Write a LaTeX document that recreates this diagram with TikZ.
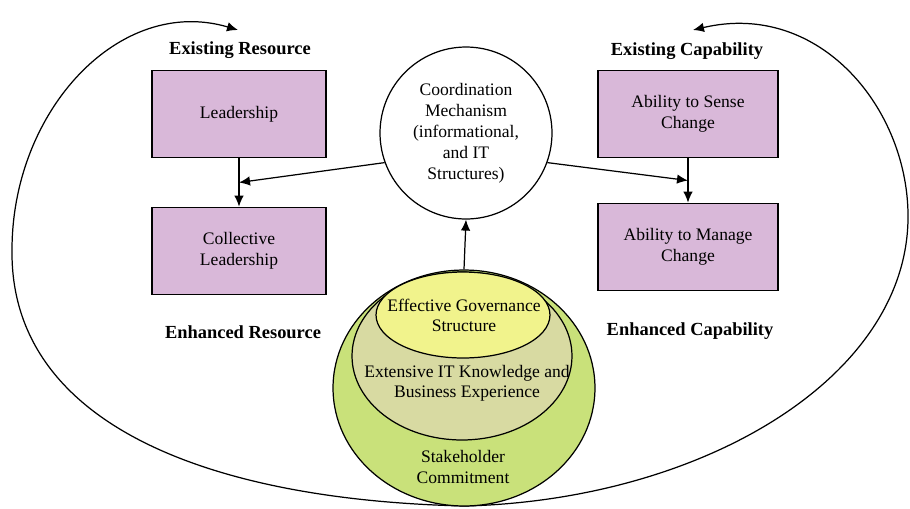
\documentclass[tikz,border=0pt]{standalone}
\usepackage{fontspec}
\setmainfont{Liberation Serif}
\usetikzlibrary{shapes.geometric,calc,arrows.meta}
\definecolor{boxPink}{RGB}{217,184,217}
\definecolor{govYellow}{RGB}{241,243,140}
\definecolor{knowKhaki}{RGB}{216,218,162}
\definecolor{stakeGreen}{RGB}{201,225,122}
\tikzset{
	capBox/.style={
		rectangle,
		draw,
		fill=boxPink,
		minimum height=1.75cm,
		align=center,
		font=\fontsize{10}{12}\selectfont
	},
	header/.style={
		font=\fontsize{10.5}{12}\selectfont\bfseries
	},
	layer/.style={
		ellipse,
		draw,
		inner sep=0pt
	},
	layerText/.style={
		align=center,
		font=\fontsize{10}{11.5}\selectfont
	},
}

\begin{document}
\begin{tikzpicture}[x=0.02cm,y=-0.02cm,line width=0.7pt,>={Latex[length=2.2mm,width=1.9mm]}]
\useasboundingbox (0,0) rectangle (910,508);

% feedback loops, behind everything
\coordinate (loopStart) at (465,506);
\coordinate (resTip) at (238,30);
\coordinate (capTip) at (693,30);
\draw[->] (loopStart) .. controls (200,500) and (10,420) .. (12,250)
	.. controls (12,110) and (120,-5) .. (resTip);
\draw[->] (loopStart) .. controls (700,500) and (905,380) .. (908,220)
	.. controls (910,110) and (820,0) .. (capTip);

% resource side
\node[header] (resExisting) at (240,50) {Existing Resource};
\node[capBox, minimum width=3.48cm] (leadership) at (239,114) {Leadership};
\node[capBox, minimum width=3.48cm] (collLeadership) at (239,251) {Collective\\Leadership};
\node[header] (resEnhanced) at (243,332) {Enhanced Resource};

% capability side
\node[header] (capExisting) at (687,51) {Existing Capability};
\node[capBox, minimum width=3.6cm] (senseChange) at (688,114) {Ability to Sense\\Change};
\node[capBox, minimum width=3.6cm] (manageChange) at (688,247) {Ability to Manage\\Change};
\node[header] (capEnhanced) at (690,331) {Enhanced Capability};

% coordination
\node[circle, draw, fill=white, minimum size=3.44cm, align=center,
	font=\fontsize{10}{11.9}\selectfont] (coordination) at (466,133)
	{Coordination\\Mechanism\\(informational,\\and IT\\Structures)};

% nested layers
\node[layer, fill=stakeGreen, minimum width=5.24cm, minimum height=4.72cm] (stakeholder) at (464,388) {};
\node[layer, fill=knowKhaki, minimum width=4.4cm, minimum height=3.36cm] (knowledge) at (462,356) {};
\node[layer, fill=govYellow, minimum width=3.48cm, minimum height=1.72cm] (governance) at (463,315) {};
\node[layerText] (governanceText) at (464,315) {Effective Governance\\Structure};
\node[layerText] (knowledgeText) at (467,383) {Extensive IT Knowledge and\\Business Experience};
\node[layerText] (stakeholderText) at (463,467) {Stakeholder\\Commitment};

% arrows
\coordinate (resJoin) at ($(leadership.south)!0.5!(collLeadership.north)$);
\coordinate (capJoin) at ($(senseChange.south)!0.5!(manageChange.north)$);
\draw[->] (leadership.south) -- (collLeadership.north);
\draw[->] (senseChange.south) -- (manageChange.north);
\draw[->] (coordination.200) -- (resJoin);
\draw[->] (coordination.340) -- (capJoin);
\draw[->] (stakeholder.north) -- (coordination.south);
\end{tikzpicture}
\end{document}
